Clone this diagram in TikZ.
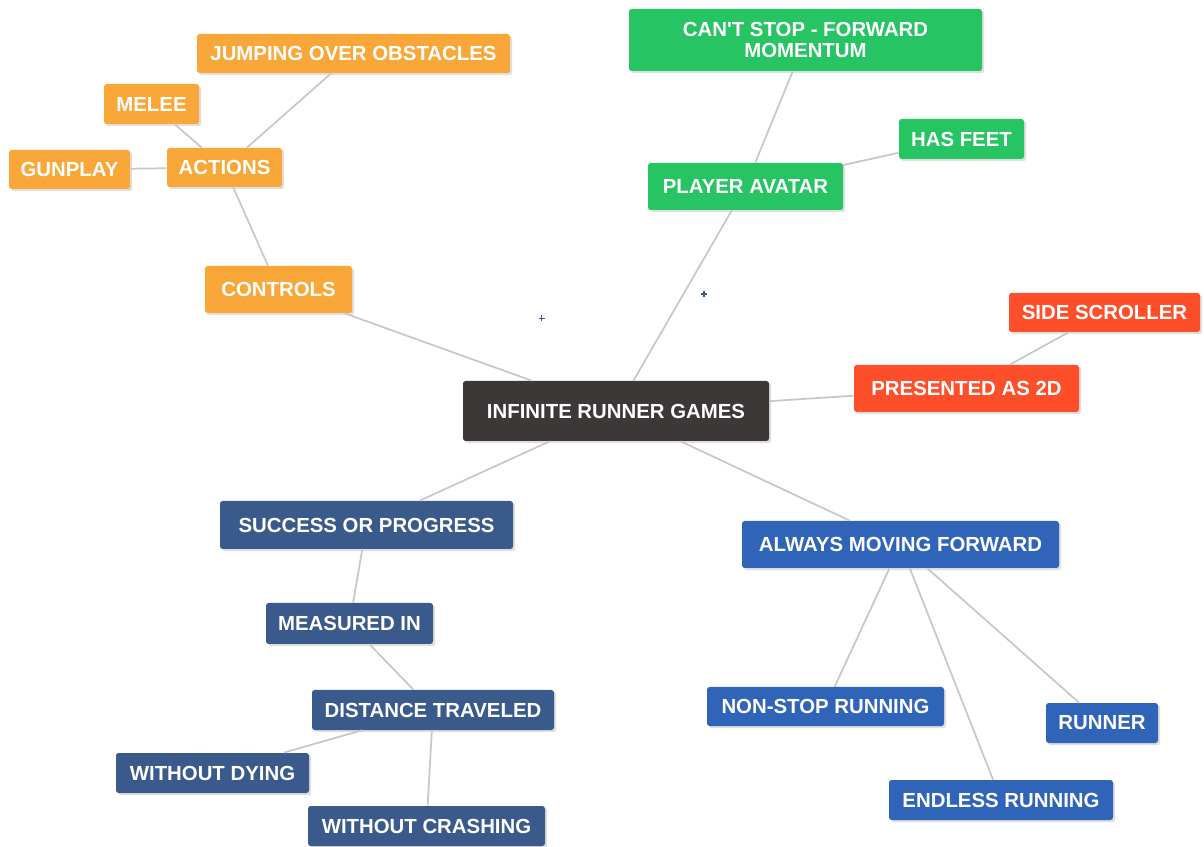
\documentclass[tikz,border=0pt]{standalone}
\usepackage{fontspec}
\newfontfamily\topicfont{Liberation Sans}
\usepackage{tikz}
\usetikzlibrary{shadows}
\definecolor{hubgray}{HTML}{3B3837}
\definecolor{avgreen}{HTML}{27C463}
\definecolor{ctorange}{HTML}{F9A738}
\definecolor{prred}{HTML}{FE4E2A}
\definecolor{sunavy}{HTML}{3A5A8C}
\definecolor{mvblue}{HTML}{2F64B8}
\definecolor{linkgray}{HTML}{C8C8C8}
\tikzset{>=latex}
\tikzset{
  topic/.style={rounded corners=1.5pt, text=white, inner sep=0pt, align=center,
    font=\topicfont\bfseries\fontsize{11.6}{12.2}\selectfont,
    drop shadow={shadow xshift=1.2pt, shadow yshift=-1.2pt, opacity=0.25}},
  sz/.style 2 args={minimum width=#1*0.02cm, minimum height=#2*0.02cm},
  link/.style={draw=linkgray, line width=1pt},
  tick/.style={draw=sunavy, line width=0.8pt},
}

\begin{document}
\begin{tikzpicture}[x=0.02cm, y=-0.02cm]
    \useasboundingbox (0,0) rectangle (1204,847);
    \node[topic, fill=hubgray, sz={306}{60}] (irg) at (616,411) {INFINITE RUNNER GAMES};
    \node[topic, fill=ctorange, sz={147}{47}] (controls) at (278.5,289.5) {CONTROLS};
    \node[topic, fill=ctorange, sz={115}{39}] (actions) at (224.5,167.5) {ACTIONS};
    \node[topic, fill=ctorange, sz={95}{40}] (melee) at (151.5,104) {MELEE};
    \node[topic, fill=ctorange, sz={121}{39}] (gunplay) at (69.5,169.5) {GUNPLAY};
    \node[topic, fill=ctorange, sz={313}{39}] (jumping) at (353.5,53.5) {JUMPING OVER OBSTACLES};
    \node[topic, fill=avgreen, sz={195}{47}] (avatar) at (745.5,186.5) {PLAYER AVATAR};
    \node[topic, fill=avgreen, sz={353}{62}] (cantstop) at (805.5,40) {CAN'T STOP - FORWARD\\MOMENTUM};
    \node[topic, fill=avgreen, sz={125}{40}] (feet) at (961.5,139) {HAS FEET};
    \node[topic, fill=prred, sz={225}{47}] (twod) at (966.5,388.5) {PRESENTED AS 2D};
    \node[topic, fill=prred, sz={191}{39}] (scroller) at (1104.5,312.5) {SIDE SCROLLER};
    \node[topic, fill=sunavy, sz={293}{48}] (success) at (366.5,525) {SUCCESS OR PROGRESS};
    \node[topic, fill=sunavy, sz={167}{41}] (measured) at (349.5,623.5) {MEASURED IN};
    \node[topic, fill=sunavy, sz={242}{40}] (distance) at (433,710) {DISTANCE TRAVELED};
    \node[topic, fill=sunavy, sz={193}{40}] (dying) at (212.5,773) {WITHOUT DYING};
    \node[topic, fill=sunavy, sz={237}{40}] (crashing) at (426.5,826) {WITHOUT CRASHING};
    \node[topic, fill=mvblue, sz={317}{47}] (moving) at (900.5,544.5) {ALWAYS MOVING FORWARD};
    \node[topic, fill=mvblue, sz={237}{39}] (nonstop) at (825.5,706.5) {NON-STOP RUNNING};
    \node[topic, fill=mvblue, sz={112}{40}] (runner) at (1102,723) {RUNNER};
    \node[topic, fill=mvblue, sz={224}{40}] (endless) at (1001,800) {ENDLESS RUNNING};

    \draw[link] (irg) -- (controls);
    \draw[link] (controls) -- (actions);
    \draw[link] (actions) -- (melee);
    \draw[link] (actions) -- (gunplay);
    \draw[link] (actions) -- (jumping);
    \draw[link] (irg) -- (avatar);
    \draw[link] (avatar) -- (cantstop);
    \draw[link] (avatar) -- (feet);
    \draw[link] (irg) -- (twod);
    \draw[link] (twod) -- (scroller);
    \draw[link] (irg) -- (success);
    \draw[link] (success) -- (measured);
    \draw[link] (measured) -- (distance);
    \draw[link] (distance) -- (dying);
    \draw[link] (distance) -- (crashing);
    \draw[link] (irg) -- (moving);
    \draw[link] (moving) -- (nonstop);
    \draw[link] (moving) -- (endless);
    \draw[link] (moving) -- (runner);

    \draw[tick] (538.5,318.3) -- (545,318.3) (541.7,315) -- (541.7,321.5);
    \draw[tick] (701,294) -- (707,294) (704,291) -- (704,297);
\end{tikzpicture}
\end{document}
